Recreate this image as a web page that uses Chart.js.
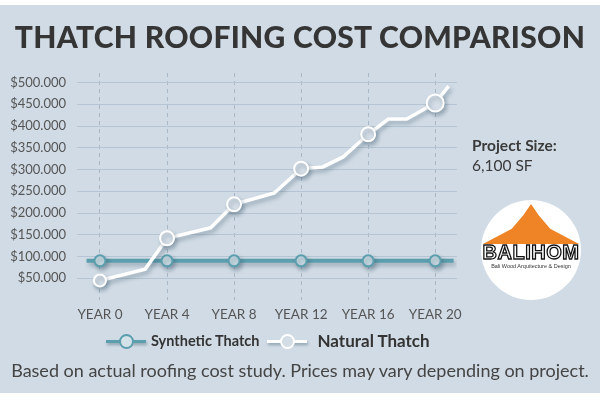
<!DOCTYPE html>
<html lang="en">

<head>
    <meta charset="UTF-8">
    <title>Thatch Roofing Cost Comparison</title>
    <script src="https://cdn.jsdelivr.net/npm/chart.js"></script>
    <style>
        body {
            margin: 0;
            width: 600px;
            height: 400px;
            background: #ffffff;
            font-family: Lato, "Noto Sans", sans-serif;
            overflow: hidden;
        }

        #panel {
            position: absolute;
            left: 0;
            top: 5px;
            width: 600px;
            height: 388px;
            background: #d0dbe5;
        }

        #wrap {
            position: absolute;
            left: 0;
            top: 0;
            width: 600px;
            height: 400px;
        }

        h1 {
            position: absolute;
            top: 18px;
            left: 0;
            width: 600px;
            margin: 0;
            text-align: center;
            font-size: 30px;
            font-weight: 900;
            letter-spacing: 0.3px;
            color: #353535;
        }

        .legend {
            position: absolute;
            top: 330px;
            left: 106px;
            display: flex;
            align-items: center;
            color: #333;
            font-weight: bold;
        }

        .sym {
            position: relative;
            width: 40px;
            height: 20px;
        }

        .sym .ln {
            position: absolute;
            left: 0;
            right: 0;
            top: 9px;
            height: 3px;
            box-shadow: 1px 2px 3px rgba(40, 70, 90, 0.4);
        }

        .sym .dot {
            position: absolute;
            left: 13px;
            top: 3px;
            width: 11px;
            height: 11px;
            border-radius: 50%;
            border: 2px solid;
        }

        #side {
            position: absolute;
            left: 472px;
            top: 135px;
            color: #3a3a3a;
            font-size: 15.5px;
            line-height: 20px;
        }

        #logo {
            position: absolute;
            left: 481px;
            top: 200px;
            width: 100px;
            height: 100px;
            border-radius: 50%;
            background: #ffffff;
            overflow: hidden;
        }

        #roof {
            position: absolute;
            left: 2px;
            top: 4px;
            width: 96px;
            height: 40px;
            background: #ef8427;
            clip-path: polygon(50% 0%, 42% 28%, 30% 62%, 0% 100%, 100% 100%, 70% 62%, 58% 28%);
        }

        #brand {
            position: absolute;
            left: 0;
            top: 41px;
            width: 100px;
            text-align: center;
            font-family: "Liberation Sans", sans-serif;
            font-weight: bold;
            font-size: 20px;
            letter-spacing: 0.5px;
            color: #ffffff;
            -webkit-text-stroke: 1.3px #111;
        }

        #tag {
            position: absolute;
            left: 0;
            top: 63px;
            width: 100px;
            text-align: center;
            font-family: "Liberation Sans", sans-serif;
            font-size: 5.5px;
            color: #333;
        }

        #note {
            position: absolute;
            top: 359px;
            left: 0;
            width: 600px;
            text-align: center;
            font-size: 18px;
            color: #444;
        }
    </style>
</head>

<body>
    <div id="panel"></div>
    <div id="wrap"><canvas id="mycanvas" width="600" height="400"></canvas></div>

    <h1>THATCH ROOFING COST COMPARISON</h1>

    <div class="legend">
        <div class="sym"><div class="ln" style="background:#5b9ead"></div><div class="dot" style="border-color:#5b9ead;background:#d3e1e8"></div></div>
        <span style="font-size:14.5px;margin-left:5px;margin-right:8px">Synthetic Thatch</span>
        <div class="sym"><div class="ln" style="background:#ffffff"></div><div class="dot" style="border-color:#ffffff;background:#d3dde6"></div></div>
        <span style="font-size:17px;margin-left:10px">Natural Thatch</span>
    </div>

    <div id="side"><b>Project Size:</b><br>6,100 SF</div>

    <div id="logo">
        <div id="roof"></div>
        <div id="brand">BALIHOM</div>
        <div id="tag">Bali Wood Arquitecture &amp; Design</div>
    </div>

    <div id="note">Based on actual roofing cost study. Prices may vary depending on project.</div>

    <script type="text/javascript">
        // data
        const yearTicks = [0, 4, 8, 12, 16, 20];
        const costTicks = [50000, 100000, 150000, 200000, 250000, 300000, 350000, 400000, 450000, 500000];

        const syntheticYears = [-0.8, 0, 4, 8, 12, 16, 20, 21.1];
        const syntheticCost = [90000, 90000, 90000, 90000, 90000, 90000, 90000, 90000];

        const naturalYears = [-0.4, 0, 2.7, 4, 6.6, 8, 10.4, 12, 13.3, 14.5, 16, 17.2, 18.3, 20, 20.8];
        const naturalCost = [39000, 45000, 71000, 142000, 166000, 220000, 246000, 302000, 306000, 329000, 381000, 416000, 416000, 453000, 492000];

        const toPoints = (xs, ys) => xs.map((x, i) => ({ x: x, y: ys[i] }));
        const isMarker = v => yearTicks.includes(v);

        // soft drop shadow under the lines
        const shadowPlugin = {
            id: 'shadow',
            beforeDatasetsDraw(chart) {
                const ctx = chart.ctx;
                ctx.save();
                ctx.shadowColor = 'rgba(45, 75, 95, 0.35)';
                ctx.shadowBlur = 4;
                ctx.shadowOffsetX = 2;
                ctx.shadowOffsetY = 3;
            },
            afterDatasetsDraw(chart) {
                chart.ctx.restore();
            }
        };

        var ctx = document.getElementById('mycanvas').getContext('2d');

        new Chart(ctx, {
            type: 'line',
            data: {
                datasets: [{
                    label: 'Natural Thatch',
                    data: toPoints(naturalYears, naturalCost),
                    borderColor: '#ffffff',
                    borderWidth: 3.5,
                    pointBackgroundColor: '#d5dee7',
                    pointBorderColor: '#ffffff',
                    pointBorderWidth: 2,
                    pointRadius: c => !isMarker(c.raw.x) ? 0 : (c.raw.x === 20 ? 8.5 : (c.raw.x === 0 ? 6 : 7)),
                    tension: 0
                }, {
                    label: 'Synthetic Thatch',
                    data: toPoints(syntheticYears, syntheticCost),
                    borderColor: '#5b9ead',
                    borderWidth: 4,
                    pointBackgroundColor: '#c8dae2',
                    pointBorderColor: '#5b9ead',
                    pointBorderWidth: 2,
                    pointRadius: c => isMarker(c.raw.x) ? 5.5 : 0,
                    tension: 0
                }]
            },
            options: {
                responsive: false,
                animation: false,
                layout: { padding: { left: 0, top: 73, right: 143, bottom: 0 } },
                plugins: {
                    legend: { display: false },
                    tooltip: { enabled: false }
                },
                scales: {
                    x: {
                        type: 'linear',
                        min: -1.37,
                        max: 21.3,
                        afterBuildTicks: s => { s.ticks = yearTicks.map(v => ({ value: v })); },
                        afterFit: s => { s.height = 100; },
                        // vertical year lines are dashed
                        border: { display: false, dash: [4, 4] },
                        grid: { color: '#a8b8c7', drawTicks: false },
                        ticks: {
                            padding: 7,
                            color: '#555',
                            font: { family: 'Lato', size: 13.5 },
                            callback: v => 'YEAR ' + v
                        }
                    },
                    y: {
                        min: 0,
                        max: 522000,
                        afterBuildTicks: s => { s.ticks = costTicks.map(v => ({ value: v })); },
                        afterFit: s => { s.width = 77; },
                        border: { display: false },
                        grid: { color: '#b5c5d4', drawTicks: false },
                        ticks: {
                            padding: 11,
                            color: '#555',
                            font: { family: 'Lato', size: 13 },
                            callback: v => '$' + String(v).replace(/\B(?=(\d{3})+(?!\d))/g, '.')
                        }
                    }
                }
            },
            plugins: [shadowPlugin]
        });
    </script>

</body>

</html>
